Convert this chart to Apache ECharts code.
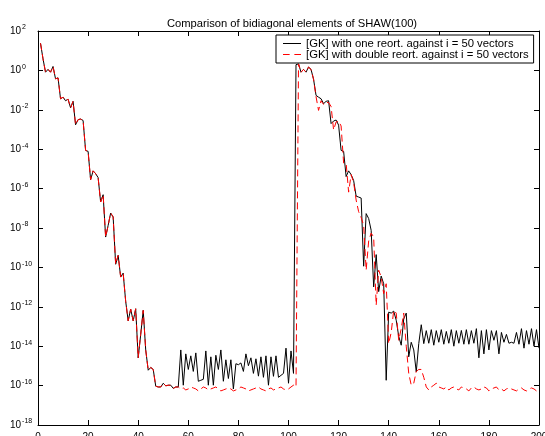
<!DOCTYPE html>
<html><head><meta charset="utf-8">
<script src="https://cdn.jsdelivr.net/npm/echarts@6/dist/echarts.min.js"></script>
<style>html,body{margin:0;padding:0;background:#fff}#c{width:545px;height:436px}</style>
</head><body><div id="c"></div>
<script>
const titleText = 'Comparison of bidiagonal elements of SHAW(100)';
const seriesNames = ['[GK] with one reort. against i = 50 vectors', '[GK] with double reort. against i = 50 vectors'];
const xTicks = [0, 20, 40, 60, 80, 100, 120, 140, 160, 180, 200];
const yTickExponents = [2, 0, -2, -4, -6, -8, -10, -12, -14, -16, -18];

// log10 of the bidiagonal element values (index i = 1..200)
// indices 1..55: both curves coincide
const sharedHeadExp = [1.38, 0.59, -0.09, 0.05, -0.09, 0.2, -0.43, -0.38, -1.44, -1.36,
  -1.54, -1.46, -1.90, -1.57, -2.76, -2.50, -2.47, -2.54, -4.06, -4.11,
  -5.55, -5.10, -5.24, -5.44, -6.68, -6.31, -8.46, -7.87, -7.24, -7.44,
  -9.84, -9.39, -10.49, -10.29, -11.72, -12.71, -12.12, -12.71, -12.10, -14.59,
  -13.40, -12.18, -14.19, -15.22, -15.08, -15.18, -16.03, -16.07, -16.07, -15.88,
  -16.01, -15.98, -15.98, -16.14, -16.07];
// one reorthogonalization: 56..102
const oneMidExp = [-16.07, -14.19, -15.98, -14.39, -15.18, -14.49, -15.28, -14.34, -15.78, -15.73,
  -15.68, -14.24, -15.98, -14.54, -15.98, -14.46, -15.18, -14.19, -15.78, -14.69,
  -15.64, -14.69, -16.17, -14.89, -14.94, -14.85, -15.28, -14.39, -14.99, -14.59,
  -15.38, -14.64, -15.52, -14.54, -15.58, -14.49, -15.98, -14.54, -15.53, -14.49,
  -15.58, -15.48, -15.38, -14.10, -15.88, -14.24, -15.38];
// one reorthogonalization: 103..154
const oneRightExp = [0.29, 0.33, -0.09, 0.05, -0.09, 0.17, 0.05, -0.45, -1.27, -1.36,
  -1.44, -1.69, -1.57, -1.54, -2.70, -2.57, -2.52, -2.78, -4.06, -4.11,
  -5.39, -5.10, -5.29, -5.59, -6.38, -6.43, -6.48, -9.94, -7.27, -7.52,
  -8.12, -10.99, -9.35, -11.23, -10.44, -10.83, -15.73, -12.27, -12.32, -12.22,
  -12.68, -13.50, -13.95, -12.61, -12.32, -14.54, -13.80, -14.19, -15.30, -13.87,
  -12.91, -13.87];
// one reorthogonalization: 155..200
const oneTailExp = [-13.21, -13.85, -13.16, -13.95, -13.21, -13.80, -13.16, -13.90, -13.25, -13.85,
  -13.16, -14.00, -13.21, -13.85, -13.20, -13.90, -13.16, -13.90, -13.21, -13.85,
  -13.11, -14.59, -13.21, -14.39, -13.16, -14.19, -13.21, -13.70, -13.21, -14.39,
  -13.30, -13.80, -13.40, -13.85, -13.80, -13.85, -13.30, -13.90, -13.11, -14.10,
  -13.21, -13.90, -13.11, -14.00, -13.16, -14.10];
// double reorthogonalization: 56..103
const doubleMidExp = [-16.07, -16.17, -16.12, -16.22, -16.17, -16.07, -16.12, -16.17, -16.27, -16.17,
  -16.07, -16.12, -16.22, -16.17, -16.12, -16.07, -16.17, -16.27, -16.22, -16.17,
  -16.12, -16.17, -16.27, -16.22, -16.17, -16.07, -16.12, -16.17, -16.27, -16.22,
  -16.17, -16.12, -16.07, -16.17, -16.22, -16.27, -16.17, -16.12, -16.22, -16.17,
  -16.12, -16.07, -16.17, -16.22, -16.17, -16.07, -15.98, -16.07];
// double reorthogonalization: 104..160
const doubleRightExp = [0.33, -0.09, 0.05, -0.09, 0.17, 0.05, -0.45, -1.34, -2.03, -1.54,
  -1.73, -1.63, -1.63, -1.83, -3.02, -2.62, -2.57, -2.82, -4.70, -4.70,
  -6.18, -5.29, -5.69, -6.58, -7.17, -7.47, -7.87, -10.14, -8.66, -8.26,
  -8.46, -11.92, -10.14, -10.49, -11.33, -10.83, -13.87, -13.30, -12.18, -12.32,
  -13.70, -13.11, -12.32, -14.00, -15.38, -15.98, -15.88, -15.28, -15.18, -15.18,
  -15.58, -16.07, -16.22, -16.07, -15.98, -15.88, -16.07];
// double reorthogonalization: 161..200
const doubleTailExp = [-16.12, -16.17, -16.07, -16.22, -16.12, -16.07, -16.17, -16.22, -16.07, -16.12,
  -16.17, -16.27, -16.12, -16.07, -16.17, -16.22, -16.17, -16.07, -16.12, -16.27,
  -16.17, -16.12, -16.07, -16.22, -16.17, -16.27, -16.17, -16.12, -16.17, -16.22,
  -16.27, -16.17, -16.12, -16.22, -16.27, -16.17, -16.12, -16.17, -16.27, -16.22];

const oneExp = sharedHeadExp.concat(oneMidExp, oneRightExp, oneTailExp);
const doubleExp = sharedHeadExp.concat(doubleMidExp, doubleRightExp, doubleTailExp);
const toPairs = arr => arr.map((e, i) => [i + 1, Math.pow(10, e)]);

const FONT = '"Liberation Sans", Arial, Helvetica, sans-serif';
const chart = echarts.init(document.getElementById('c'), null, {renderer: 'canvas'});

const yLabelFormatter = v => {
  const e = Math.round(Math.log10(v));
  if (yTickExponents.indexOf(e) < 0) return '';
  return '{b|10}{s|' + e + '}';
};

const baseX = {
  type: 'value', min: xTicks[0], max: xTicks[xTicks.length - 1], interval: xTicks[1] - xTicks[0],
  axisLine: {show: true, onZero: false, lineStyle: {color: '#000', width: 1}},
  axisTick: {show: true, inside: true, length: 5, lineStyle: {color: '#000'}},
  splitLine: {show: false}
};
const baseY = {
  type: 'log', logBase: 10, min: 1e-18, max: 1e2, interval: 2,
  axisLine: {show: true, onZero: false, lineStyle: {color: '#000', width: 1}},
  axisTick: {show: true, inside: true, length: 5, lineStyle: {color: '#000'}},
  splitLine: {show: false}, minorTick: {show: false}
};

chart.setOption({
  animation: false,
  backgroundColor: '#fff',
  title: {
    text: titleText, left: 287, top: 13, textAlign: 'center',
    textStyle: {fontSize: 11.2, fontWeight: 'normal', color: '#000', fontFamily: FONT}
  },
  grid: {left: 38, right: 6, top: 31, bottom: 11, containLabel: false, outerBoundsMode: 'none'},
  legend: {
    orient: 'vertical', left: 276, top: 35,
    backgroundColor: '#fff', borderColor: '#000', borderWidth: 1, borderRadius: 0,
    padding: [3, 5, 3, 7], itemGap: 0, itemWidth: 18, itemHeight: 1,
    textStyle: {fontSize: 11.3, lineHeight: 11, color: '#000', fontFamily: FONT},
    data: [
      {name: seriesNames[0], icon: 'rect', itemStyle: {color: '#000', borderWidth: 0}},
      {name: seriesNames[1], icon: 'path://M0,0h7v1h-7z M12,0h7v1h-7z', itemStyle: {color: '#ff0000', borderWidth: 0}}
    ]
  },
  xAxis: [
    Object.assign({}, baseX, {position: 'bottom',
      axisLabel: {show: true, margin: 7, fontSize: 10, color: '#000', fontFamily: FONT}}),
    Object.assign({}, baseX, {position: 'top', axisLabel: {show: false}})
  ],
  yAxis: [
    Object.assign({}, baseY, {position: 'left',
      axisLabel: {show: true, align: 'left', margin: 28, formatter: yLabelFormatter,
        rich: {
          b: {fontSize: 10, color: '#000', fontFamily: FONT, lineHeight: 12},
          s: {fontSize: 7, color: '#000', fontFamily: FONT, lineHeight: 8, padding: [0, 0, 7, 1]}
        }}}),
    Object.assign({}, baseY, {position: 'right', axisLabel: {show: false}})
  ],
  series: [
    {
      name: seriesNames[0], type: 'line', data: toPairs(oneExp),
      xAxisIndex: 0, yAxisIndex: 0, symbol: 'none', showSymbol: false,
      lineStyle: {color: '#000', width: 1}, itemStyle: {color: '#000'}, z: 2
    },
    {
      name: seriesNames[1], type: 'line', data: toPairs(doubleExp),
      xAxisIndex: 0, yAxisIndex: 0, symbol: 'none', showSymbol: false,
      lineStyle: {color: '#ff0000', width: 1, type: [7, 4]}, itemStyle: {color: '#ff0000'}, z: 3
    }
  ]
});
</script></body></html>
